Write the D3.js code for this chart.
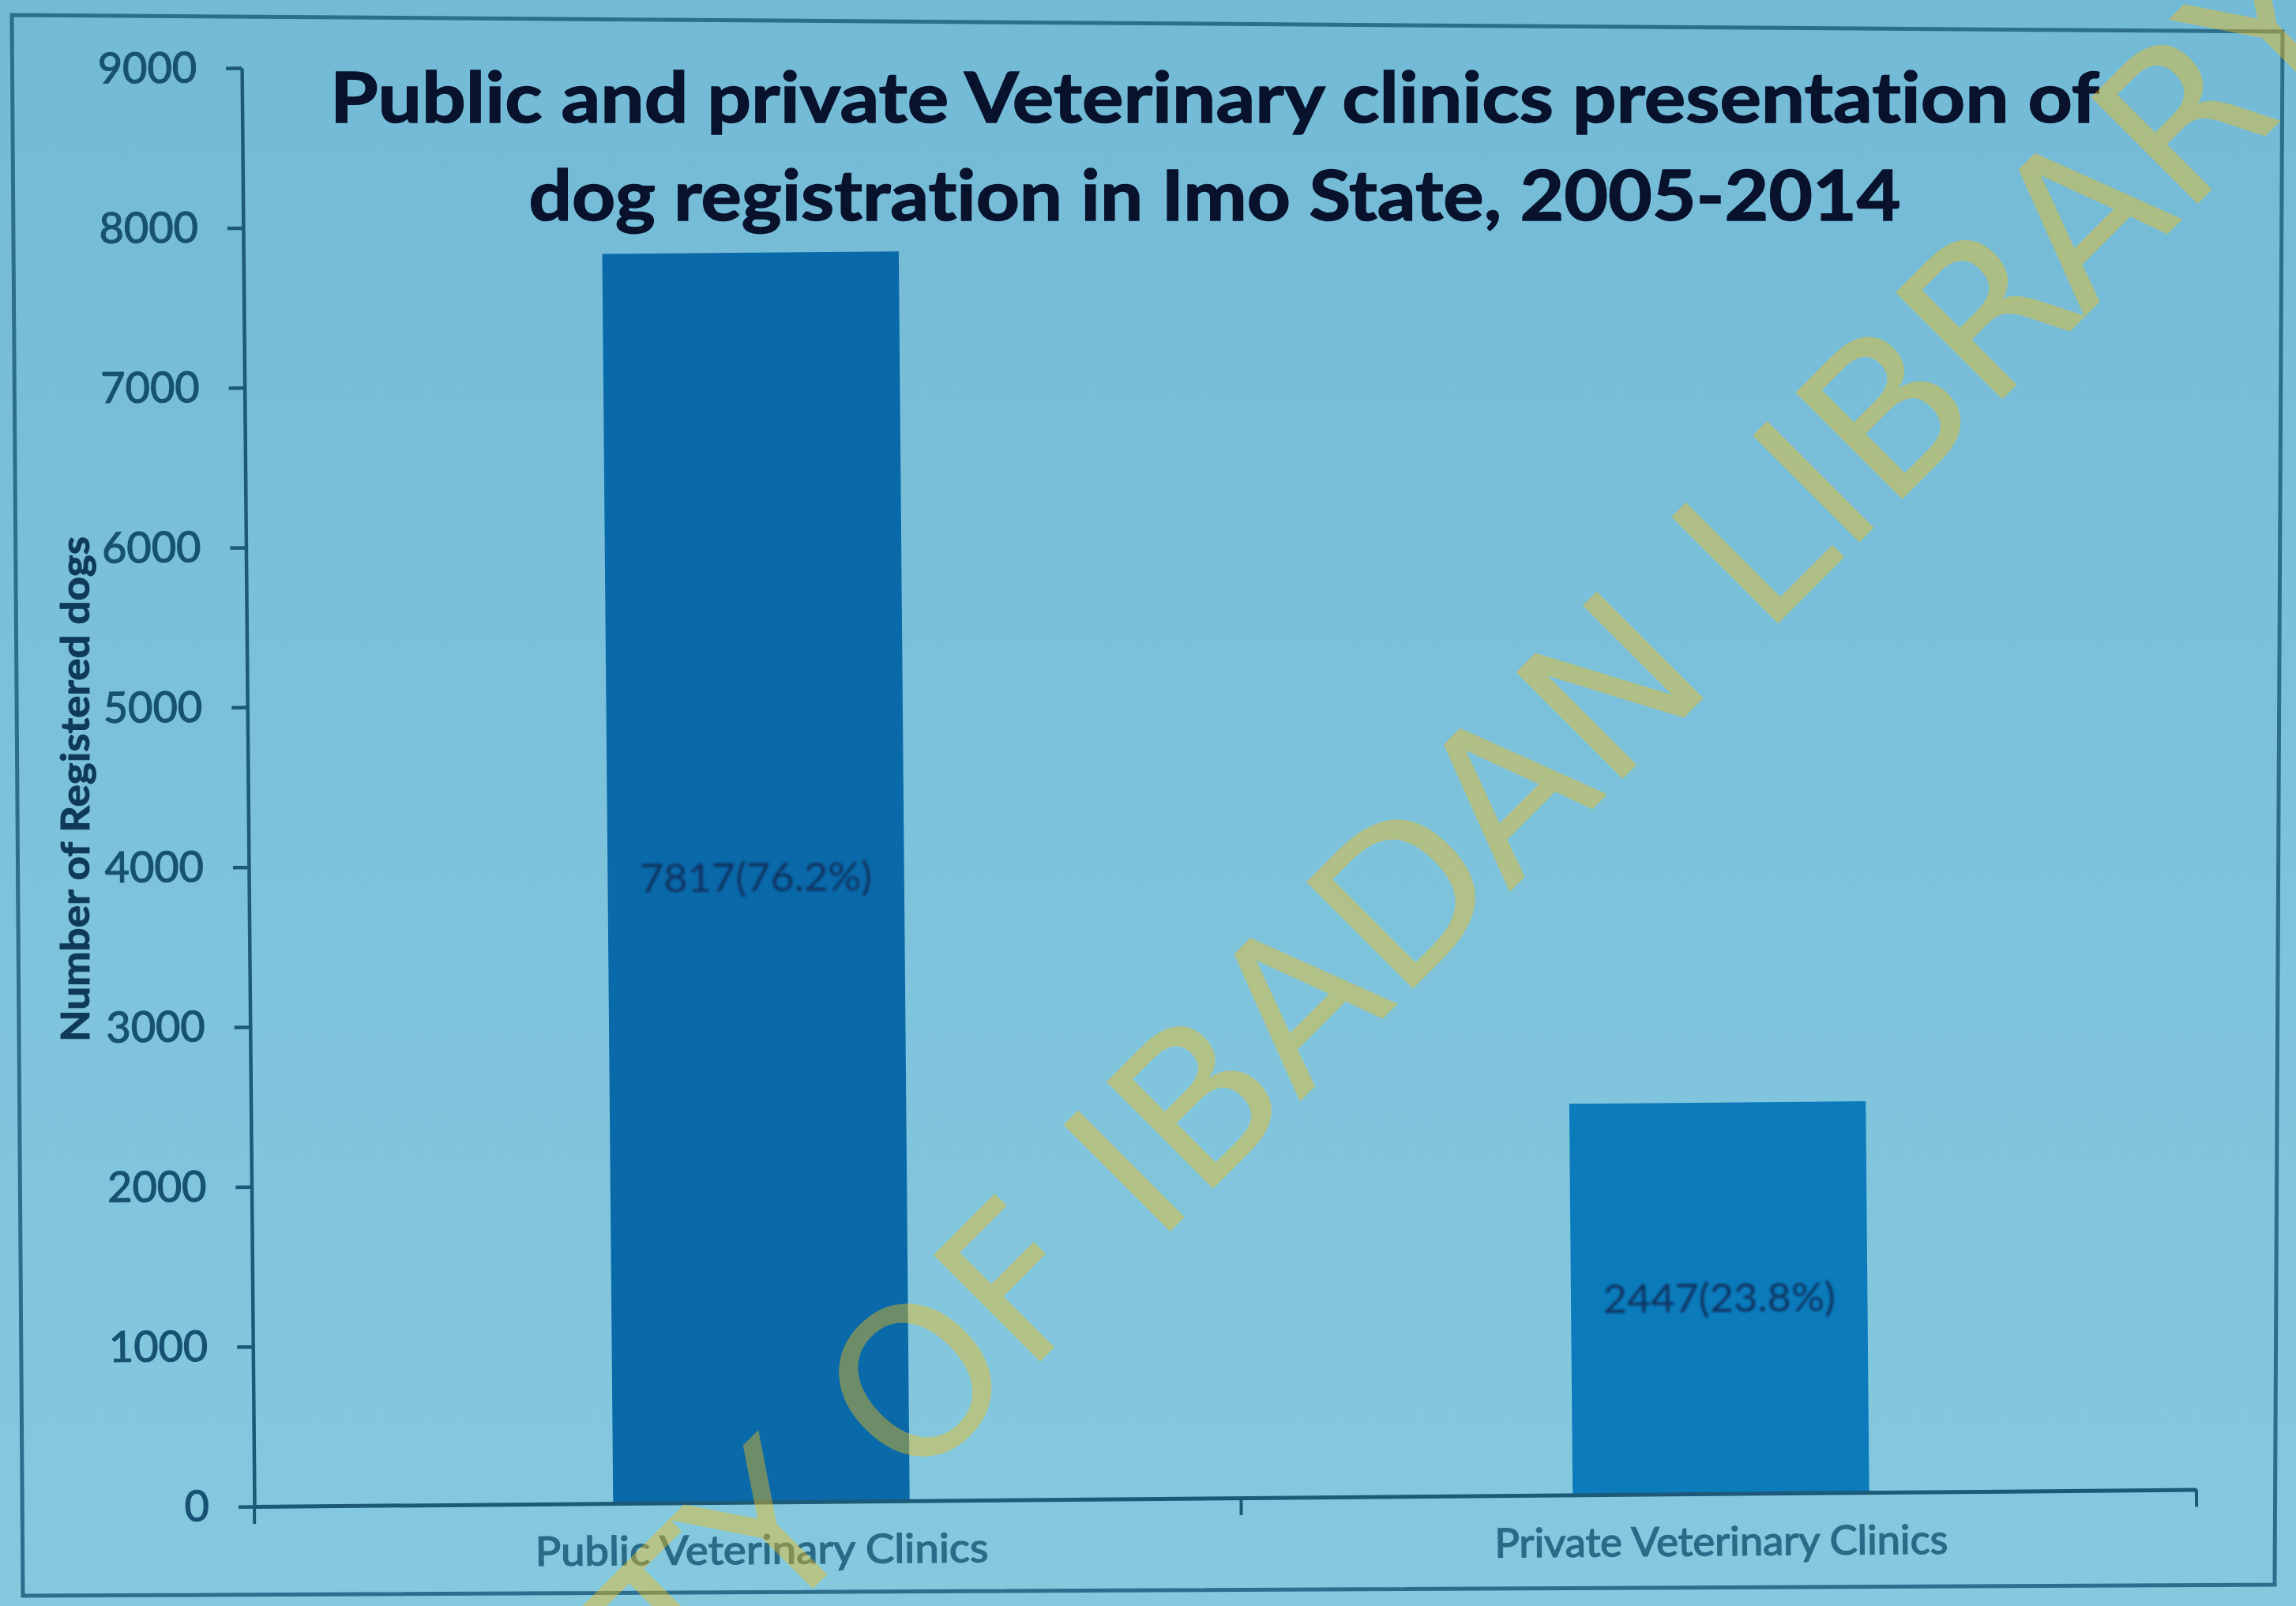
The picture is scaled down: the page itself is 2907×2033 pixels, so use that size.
<!DOCTYPE html>
<html>
<head>
<meta charset="utf-8">
<script src="https://cdn.jsdelivr.net/npm/d3@7"></script>
<style>
  html, body { margin: 0; padding: 0; }
  body {
    width: 2907px; height: 2033px; overflow: hidden;
    background: linear-gradient(180deg, #73BAD6 0%, #7CC1DB 45%, #85C9DF 100%);
  }
  svg { display: block; }
  svg text { font-variant-ligatures: none; font-feature-settings: "liga" 0, "clig" 0; }
</style>
</head>
<body>
<script>
// ---- chart content ----
const titleLines = [
  "Public and private Veterinary clinics presentation of",
  "dog registration in Imo State, 2005-2014"
];
const categories = ["Public Veterinary Clinics", "Private Veterinary Clinics"];
const registeredDogs = [7817, 2447];
const sharePercent = [76.2, 23.8];
const yTickValues = [0, 1000, 2000, 3000, 4000, 5000, 6000, 7000, 8000, 9000];
const yAxisTitle = "Number of Registered dogs";
const barColors = ["#0A69A9", "#0B7BBC"];
const watermarkText = "UNIVERSITY OF IBADAN LIBRARY";

// ---- layout ----
const W = 2907, H = 2033;
const plot = { left: 322, right: 2781, top: 86, bottom: 1907 };
const tilt = -0.5;                      // page is photographed slightly askew
const axisColor = "#1C5A78";
const titleFont = "Lato, 'Open Sans', sans-serif";

const svg = d3.select("body").append("svg")
  .attr("width", W).attr("height", H)
  .attr("viewBox", `0 0 ${W} ${H}`);

const defs = svg.append("defs");
defs.append("filter").attr("id", "soft")
  .append("feGaussianBlur").attr("stdDeviation", 1.4);

// outer chart border (the sheet is warped, so the corners are not square)
const border = [[15, 19], [2890, 40], [2880, 2006], [29, 2020]];
svg.append("path")
  .attr("d", d3.line()(border) + "Z")
  .attr("fill", "none")
  .attr("stroke", "#2C6E8C")
  .attr("stroke-width", 5);

// title
svg.append("g").selectAll("text")
  .data(titleLines)
  .join("text")
  .attr("x", 1538)
  .attr("y", (d, i) => 155 + i * 124)
  .attr("text-anchor", "middle")
  .attr("textLength", (d, i) => [2240, 1737][i])
  .attr("lengthAdjust", "spacingAndGlyphs")
  .style("font-family", titleFont)
  .style("font-weight", 700)
  .style("font-size", "88px")
  .attr("fill", "#08122C")
  .attr("stroke", "#08122C")
  .attr("stroke-width", 1.5)
  .text(d => d);

// y axis title
svg.append("text")
  .attr("transform", "translate(113,999) rotate(-90)")
  .attr("text-anchor", "middle")
  .attr("textLength", 640)
  .attr("lengthAdjust", "spacingAndGlyphs")
  .style("font-family", titleFont)
  .style("font-weight", 700)
  .style("font-size", "50px")
  .attr("fill", "#0E3A58")
  .attr("stroke", "#0E3A58")
  .attr("stroke-width", 1)
  .text(yAxisTitle);

// ---- plot ----
const rows = categories.map((c, i) => ({
  cat: c, value: registeredDogs[i], pct: sharePercent[i], color: barColors[i]
}));

const plotG = svg.append("g")
  .attr("transform", `rotate(${tilt},${plot.left},${plot.bottom})`);

const y = d3.scaleLinear().domain([0, 9000]).range([plot.bottom, plot.top]);
const x = d3.scaleBand()
  .domain(categories)
  .range([plot.left, plot.right])
  .paddingInner(0.691)
  .paddingOuter(0.3575)
  .align(0.523);

// bars
plotG.append("g").selectAll("rect")
  .data(rows)
  .join("rect")
  .attr("x", d => x(d.cat))
  .attr("width", x.bandwidth())
  .attr("y", d => y(d.value))
  .attr("height", d => y(0) - y(d.value))
  .attr("fill", d => d.color);

// value labels, centred inside each bar
plotG.append("g").selectAll("text")
  .data(rows)
  .join("text")
  .attr("x", d => x(d.cat) + x.bandwidth() / 2)
  .attr("y", d => (y(d.value) + y(0)) / 2)
  .attr("dy", "0.35em")
  .attr("text-anchor", "middle")
  .attr("textLength", 294)
  .attr("lengthAdjust", "spacingAndGlyphs")
  .attr("filter", "url(#soft)")
  .style("font-family", titleFont)
  .style("font-size", "51px")
  .attr("fill", "#10325F")
  .text(d => `${d.value}(${d.pct.toFixed(1)}%)`);

// y axis
const yAxisG = plotG.append("g")
  .attr("transform", `translate(${plot.left},0)`)
  .call(d3.axisLeft(y)
    .tickValues(yTickValues)
    .tickSize(20)
    .tickSizeOuter(0)
    .tickPadding(37)
    .tickFormat(d3.format("d")));
yAxisG.select(".domain").attr("stroke", axisColor).attr("stroke-width", 4.5);
yAxisG.selectAll(".tick line").attr("stroke", axisColor).attr("stroke-width", 4.5);
yAxisG.selectAll(".tick text")
  .style("font-family", titleFont)
  .style("font-size", "54px")
  .attr("fill", "#175273")
  .attr("stroke", "#175273")
  .attr("stroke-width", 1.2);

// x axis
const xAxisG = plotG.append("g")
  .attr("transform", `translate(0,${plot.bottom})`)
  .call(d3.axisBottom(x).tickSize(0).tickSizeOuter(0).tickPadding(42));
xAxisG.select(".domain").attr("stroke", axisColor).attr("stroke-width", 5);
xAxisG.selectAll(".tick text")
  .attr("textLength", 574)
  .attr("lengthAdjust", "spacingAndGlyphs")
  .style("font-family", titleFont)
  .style("font-size", "51px")
  .attr("fill", "#2A6B88")
  .attr("stroke", "#2A6B88")
  .attr("stroke-width", 1.4);

// tick marks on category boundaries
const bounds = [
  x.range()[0],
  ...d3.pairs(categories).map(([a, b]) => (x(a) + x.bandwidth() + x(b)) / 2),
  x.range()[1]
];
xAxisG.append("g").selectAll("line")
  .data(bounds)
  .join("line")
  .attr("x1", d => d).attr("x2", d => d)
  .attr("y1", 0).attr("y2", 22)
  .attr("stroke", axisColor)
  .attr("stroke-width", 4);

// ---- library watermark across the page ----
const wm = svg.append("text")
  .attr("transform", "rotate(-45)")
  .attr("y", 2150)
  .attr("x", 0)
  .style("font-family", "'DejaVu Sans', sans-serif")
  .style("font-size", "262px")
  .attr("fill", "rgb(248,191,17)")
  .attr("fill-opacity", 0.42)
  .text(watermarkText);

(function spreadWatermark() {
  const node = wm.node();
  const n = watermarkText.length;
  const starts = d3.range(n).map(i => node.getStartPositionOfChar(i).x);
  const centre = i => { const e = node.getExtentOfChar(i); return e.x + e.width / 2; };
  const iO = watermarkText.indexOf("OF");
  const iR = watermarkText.lastIndexOf("R");
  const sO = -416, sR = 1842;           // along-baseline centres of "O" and final "R"
  const ls = ((sR - sO) - (centre(iR) - centre(iO))) / (iR - iO);
  const shift = sO - (centre(iO) + iO * ls);
  wm.attr("x", starts.map((s, i) => (s + i * ls + shift).toFixed(1)).join(" "));
})();
</script>
</body>
</html>
